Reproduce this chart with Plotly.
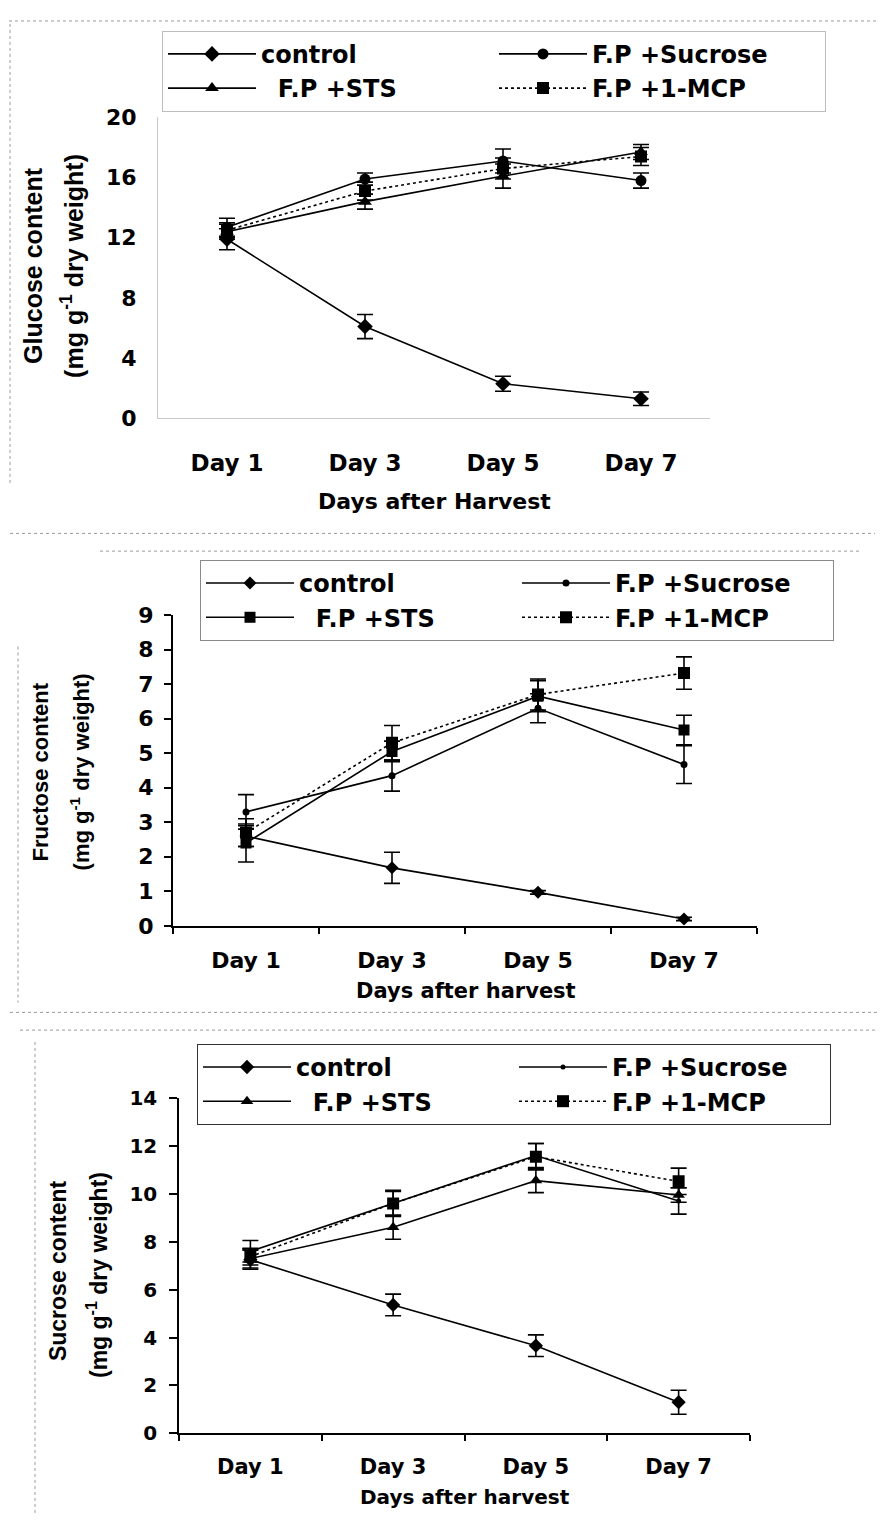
import plotly.graph_objects as go

days = ["Day 1", "Day 3", "Day 5", "Day 7"]
series_names = ["control", "F.P +Sucrose", "\u00a0\u00a0F.P +STS", "F.P +1-MCP"]

# Glucose (mg g-1 dry weight)
glu_control = [11.9, 6.1, 2.3, 1.3]
glu_control_err = [0.7, 0.8, 0.5, 0.45]
glu_sucrose = [12.7, 15.9, 17.1, 15.8]
glu_sucrose_err = [0.6, 0.4, 0.8, 0.5]
glu_sts = [12.4, 14.4, 16.1, 17.7]
glu_sts_err = [0.5, 0.5, 0.8, 0.5]
glu_mcp = [12.5, 15.1, 16.6, 17.4]
glu_mcp_err = [0.5, 0.6, 0.7, 0.6]

# Fructose
fru_control = [2.6, 1.68, 0.97, 0.2]
fru_control_err = [0.3, 0.45, 0.05, 0.05]
fru_sucrose = [3.3, 4.35, 6.3, 4.67]
fru_sucrose_err = [0.5, 0.45, 0.42, 0.55]
fru_sts = [2.4, 5.05, 6.65, 5.67]
fru_sts_err = [0.55, 0.3, 0.45, 0.43]
fru_mcp = [2.7, 5.3, 6.7, 7.32]
fru_mcp_err = [0.4, 0.5, 0.45, 0.47]

# Sucrose
suc_control = [7.25, 5.36, 3.66, 1.3]
suc_control_err = [0.4, 0.45, 0.45, 0.5]
suc_sucrose = [7.6, 9.6, 11.6, 9.7]
suc_sucrose_err = [0.45, 0.5, 0.5, 0.55]
suc_sts = [7.3, 8.6, 10.55, 9.95]
suc_sts_err = [0.4, 0.5, 0.5, 0.3]
suc_mcp = [7.38, 9.6, 11.55, 10.52]
suc_mcp_err = [0.35, 0.55, 0.55, 0.55]

# The page body has an 8px margin: the figure starts at (8, 8) in the window.
OFF = 8
W, H = 885 - OFF, 1528 - OFF
def px(x):
    return (x - OFF) / W
def py(y):
    return 1 - (y - OFF) / H

HFONT = "DejaVu Sans"
VFONT = "Liberation Sans"

fig = go.Figure()

panels = [
    dict(ax="", leg="legend",
         data=[(glu_control, glu_control_err), (glu_sucrose, glu_sucrose_err),
               (glu_sts, glu_sts_err), (glu_mcp, glu_mcp_err)],
         symbols=["diamond", "circle", "triangle-up", "square"],
         sizes=[12, 11, 12, 12]),
    dict(ax="2", leg="legend2",
         data=[(fru_control, fru_control_err), (fru_sucrose, fru_sucrose_err),
               (fru_sts, fru_sts_err), (fru_mcp, fru_mcp_err)],
         symbols=["diamond", "circle", "square", "square"],
         sizes=[10, 7, 11, 12]),
    dict(ax="3", leg="legend3",
         data=[(suc_control, suc_control_err), (suc_sucrose, suc_sucrose_err),
               (suc_sts, suc_sts_err), (suc_mcp, suc_mcp_err)],
         symbols=["diamond", "circle", "triangle-up", "square"],
         sizes=[11, 5, 11, 12]),
]

for p in panels:
    for i, ((vals, errs), sym, sz) in enumerate(zip(p["data"], p["symbols"], p["sizes"])):
        fig.add_trace(go.Scatter(
            x=days, y=vals,
            mode="lines+markers",
            name=series_names[i],
            line=dict(color="black", width=1.6, dash="dot" if i == 3 else "solid"),
            marker=dict(symbol=sym, size=sz, color="black"),
            error_y=dict(type="data", array=errs, color="black", thickness=1.6, width=8),
            xaxis="x" + p["ax"], yaxis="y" + p["ax"],
            legend=p["leg"],
        ))

common_x = dict(type="category", categoryorder="array", categoryarray=days,
                range=[-0.5, 3.5], showgrid=False, zeroline=False)
common_y = dict(showgrid=False, zeroline=False)

fig.update_layout(
    width=W, height=H,
    margin=dict(l=0, r=0, t=0, b=0),
    paper_bgcolor="white", plot_bgcolor="white",
    showlegend=True,
    xaxis=dict(**common_x, domain=[px(158), px(710)], anchor="y",
               showline=True, linecolor="#c8c8c8", linewidth=1, ticks="",
               ticklabelstandoff=24,
               tickfont=dict(family=HFONT, size=23, color="black", weight="bold")),
    yaxis=dict(**common_y, domain=[py(413), py(107)], anchor="x", range=[0, 20],
               dtick=4, showline=True, linecolor="#c8c8c8", linewidth=1, ticks="",
               ticklabelstandoff=16,
               tickfont=dict(family=HFONT, size=22, color="black", weight="bold")),
    xaxis2=dict(**common_x, domain=[px(173), px(757)], anchor="y2",
                showline=True, linecolor="black", linewidth=2, ticks="outside",
                tickson="boundaries", ticklen=6, tickwidth=1.5, tickcolor="black",
                ticklabelstandoff=14,
                tickfont=dict(family=HFONT, size=22, color="black", weight="bold")),
    yaxis2=dict(**common_y, domain=[py(929), py(613)], anchor="x2", range=[0, 9],
                dtick=1, showline=True, linecolor="black", linewidth=2,
                ticks="outside", ticklen=7, tickwidth=1.5, tickcolor="black",
                ticklabelstandoff=6,
                tickfont=dict(family=HFONT, size=22, color="black", weight="bold")),
    xaxis3=dict(**common_x, domain=[px(179), px(750)], anchor="y3",
                showline=True, linecolor="black", linewidth=1.5, ticks="outside",
                tickson="boundaries", ticklen=6, tickwidth=1.5, tickcolor="black",
                ticklabelstandoff=14,
                tickfont=dict(family=HFONT, size=21, color="black", weight="bold")),
    yaxis3=dict(**common_y, domain=[py(1445), py(1104)], anchor="x3", range=[0, 14],
                dtick=2, showline=True, linecolor="black", linewidth=1.5,
                ticks="outside", ticklen=8, tickwidth=1.5, tickcolor="black",
                ticklabelstandoff=8,
                tickfont=dict(family=HFONT, size=20, color="black", weight="bold")),
)

leg_common = dict(orientation="h", xanchor="left", yanchor="top",
                  itemwidth=88, entrywidthmode="pixels",
                  bgcolor="rgba(255,255,255,0)", borderwidth=1, tracegroupgap=0,
                  itemclick=False, itemdoubleclick=False)
fig.update_layout(
    legend=dict(**leg_common, entrywidth=228, x=px(162), y=py(19), bordercolor="#bdbdbd",
                font=dict(family=HFONT, size=24, color="black", weight="bold")),
    legend2=dict(**leg_common, entrywidth=213, x=px(200), y=py(557), bordercolor="#8a8a8a",
                 font=dict(family=HFONT, size=24, color="black", weight="bold")),
    legend3=dict(**leg_common, entrywidth=213, x=px(197), y=py(1049), bordercolor="#333333",
                 font=dict(family=HFONT, size=24, color="black", weight="bold")),
)

annots = [
    dict(text="Days after Harvest", x=px(434), y=py(498), size=22, fam=HFONT, angle=0),
    dict(text="Days after harvest", x=px(466), y=py(995), size=21, fam=HFONT, angle=0),
    dict(text="Days after harvest", x=px(465), y=py(1510), size=20, fam=HFONT, angle=0),
    dict(text="Glucose content", x=px(33), y=py(258), size=25, fam=VFONT, angle=-90),
    dict(text="(mg g<sup>-1</sup> dry weight)", x=px(72), y=py(258), size=25, fam=VFONT, angle=-90),
    dict(text="Fructose content", x=px(40), y=py(773), size=22, fam=VFONT, angle=-90),
    dict(text="(mg g<sup>-1</sup> dry weight)", x=px(80), y=py(773), size=22, fam=VFONT, angle=-90),
    dict(text="Sucrose content", x=px(58), y=py(1280), size=23, fam=VFONT, angle=-90),
    dict(text="(mg g<sup>-1</sup> dry weight)", x=px(97), y=py(1284), size=23, fam=VFONT, angle=-90),
]
for a in annots:
    fig.add_annotation(text=a["text"], x=a["x"], y=a["y"], xref="paper", yref="paper",
                       xanchor="center", yanchor="middle", showarrow=False,
                       textangle=a["angle"],
                       font=dict(family=a["fam"], size=a["size"], color="black", weight="bold"))

# Faint scanned frame lines around panels
frame = dict(color="#9a9a9a", width=1, dash="dot")
shapes = [
    dict(x0=px(9), x1=px(882), y0=py(9), y1=py(9)),
    dict(x0=px(10), x1=px(10), y0=py(12), y1=py(480)),
    dict(x0=px(10), x1=px(875), y0=py(530), y1=py(530)),
    dict(x0=px(100), x1=px(860), y0=py(548), y1=py(548)),
    dict(x0=px(18), x1=px(18), y0=py(645), y1=py(1007)),
    dict(x0=px(10), x1=px(880), y0=py(1017), y1=py(1017)),
    dict(x0=px(20), x1=px(880), y0=py(1035), y1=py(1035)),
    dict(x0=px(35), x1=px(35), y0=py(1047), y1=py(1527)),
    dict(x0=px(879), x1=px(879), y0=py(1035), y1=py(1527)),
]
for s in shapes:
    fig.add_shape(type="line", xref="paper", yref="paper", line=frame, **s)

fig.write_html("out.html")
